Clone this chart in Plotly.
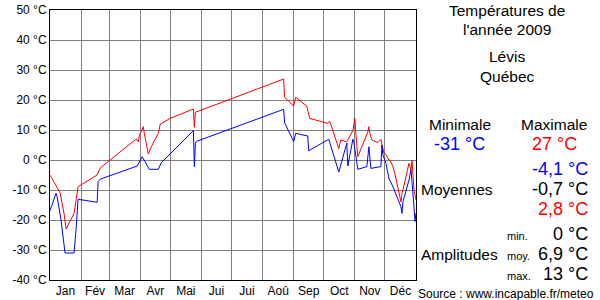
import plotly.graph_objects as go

# ---- data ----
month_labels = ["Jan", "Fév", "Mar", "Avr", "Mai", "Jui", "Jui", "Aoû", "Sep", "Oct", "Nov", "Déc"]
month_lengths = [31, 28, 31, 30, 31, 30, 31, 31, 30, 31, 30, 31]

y_tick_values = [-40, -30, -20, -10, 0, 10, 20, 30, 40, 50]
y_tick_labels = ["-40 °C", "-30 °C", "-20 °C", "-10 °C", "0 °C", "10 °C", "20 °C", "30 °C", "40 °C", "50 °C"]

max_days = [0, 7, 8, 10, 14, 16, 24, 26, 28, 47, 50, 86, 88, 89, 93, 94, 98, 101, 108, 110, 120,
            143, 144, 145, 233, 234, 243, 245, 250, 256, 259, 277, 279, 288, 290, 296, 302, 304,
            305, 307, 317, 318, 319, 321, 323, 327, 330, 332, 333, 335, 338, 339, 342, 345, 347,
            350, 351, 352, 355, 358, 360, 361, 363, 365]
max_temps = [-5, -9.4, -10, -10.9, -17.8, -23, -17.8, -13.3, -8.9, -5, -2.7, 7, 6, 8, 11.1, 9, 2,
             4.4, 8.9, 12, 13.9, 17, 10.9, 15.9, 27, 20.9, 18, 20.9, 19.7, 18, 13.9, 12.2, 12.9,
             3.8, 6.7, 6.0, 9.8, 13.9, 8.9, 1.1, 9.4, 11.1, 8.9, 6.7, 6.4, 5.8, 6.9, 4.4, 2.2, 1.9,
             0, 0, -2.2, -6.1, -8.9, -14, -11.1, -10, -5.6, -1.1, -3.3, 0, -10, -13.3]

min_days = [0, 6, 7, 11, 15, 24, 26, 27, 28, 32, 47, 48, 50, 87, 92, 99, 108, 111, 143, 144, 145,
            146, 233, 234, 243, 245, 257, 258, 278, 288, 296, 297, 302, 303, 306, 307, 316, 318,
            320, 330, 331, 332, 335, 338, 342, 350, 351, 352, 358, 360, 363, 364, 365]
min_temps = [-16.9, -11.1, -12, -20, -31, -31, -23.1, -17.8, -13.1, -13.3, -14.1, -7.2, -6.4, -2,
             1.1, -3.1, -3.1, -0.9, 9.8, -2.2, 5.6, 6.2, 16.9, 12.4, 6.1, 8.9, 8, 3.1, 6.9, -4,
             5.6, -2, 6.9, 6.0, -2.2, -3.1, -2.2, 4.4, -2.8, -2.2, 5, 1.7, -1.1, -6.1, -8.9,
             -15.6, -17.8, -13.9, -6.7, -3.3, -15.6, -20.5, -17.7]

# ---- derived axis positions ----
month_starts = [0]
for n in month_lengths:
    month_starts.append(month_starts[-1] + n)
month_mids = [(month_starts[i] + month_starts[i + 1]) / 2 for i in range(12)]

FONT = "Liberation Sans, Arial, sans-serif"
W, H = 600, 300
L, R, T, B = 50, 184, 10, 20
PW, PH = W - L - R, H - T - B

fig = go.Figure()
fig.add_trace(go.Scatter(x=max_days, y=max_temps, mode="lines",
                         line=dict(color="#ff0000", width=1), hoverinfo="skip"))
fig.add_trace(go.Scatter(x=min_days, y=min_temps, mode="lines",
                         line=dict(color="#0000ff", width=1), hoverinfo="skip"))


def px_x(px):
    return (px - L) / PW


def px_y(py):
    return (H - B - py) / PH


def note(text, x, y, size, color="black", anchor="center", h=None):
    fig.add_annotation(text=text, x=px_x(x), y=px_y(y), xref="paper", yref="paper",
                       xanchor=anchor, yanchor="middle", showarrow=False, height=h,
                       font=dict(family=FONT, size=size, color=color))


note("Températures de", 507, 10, 15.5)
note("l'année 2009", 507, 29, 15.5)
note("Lévis", 507, 57, 15.5)
note("Québec", 507, 77, 15.5)
note("Minimale", 460, 124, 15.5)
note("Maximale", 554, 124, 15.5)
note("-31 °C", 460, 144, 18, "#0000ff")
note("27 °C", 554, 144, 18, "#ff0000")
note("-4,1 °C", 590, 168, 18, "#0000ff", "right", 19)
note("-0,7 °C", 590, 188, 18, "black", "right", 19)
note("2,8 °C", 590, 208, 18, "#ff0000", "right", 19)
note("Moyennes", 419, 189, 15.5, "black", "left")
note("Amplitudes", 419, 254, 15.5, "black", "left")
note("min.", 505, 236, 11, "black", "left")
note("moy.", 505, 256, 11, "black", "left")
note("max.", 505, 276, 11, "black", "left")
note("0 °C", 590, 233, 18, "black", "right", 19)
note("6,9 °C", 590, 253, 18, "black", "right", 19)
note("13 °C", 590, 273, 18, "black", "right", 19)
note("Source : www.incapable.fr/meteo", 596, 294, 12, "black", "right")

fig.update_layout(
    width=W, height=H,
    margin=dict(l=L, r=R, t=T, b=B, pad=0, autoexpand=False),
    paper_bgcolor="white", plot_bgcolor="white",
    showlegend=False,
    font=dict(family=FONT, size=12, color="black"),
    xaxis=dict(range=[0, 365], tickmode="array", tickvals=month_mids, ticktext=month_labels,
               showgrid=False, zeroline=False, ticks="", automargin=False,
               showline=True, mirror=True, linecolor="black", linewidth=1,
               tickfont=dict(family=FONT, size=12, color="black"),
               minor=dict(tickmode="array", tickvals=month_starts, showgrid=True,
                          gridcolor="#808080", gridwidth=1, ticks="")),
    yaxis=dict(range=[-40, 50], tickmode="array", tickvals=y_tick_values, ticktext=y_tick_labels,
               showgrid=True, gridcolor="#808080", gridwidth=1, zeroline=False, ticks="",
               automargin=False,
               showline=True, mirror=True, linecolor="black", linewidth=1,
               tickfont=dict(family=FONT, size=12, color="black")),
)

fig.write_html("out.html")
